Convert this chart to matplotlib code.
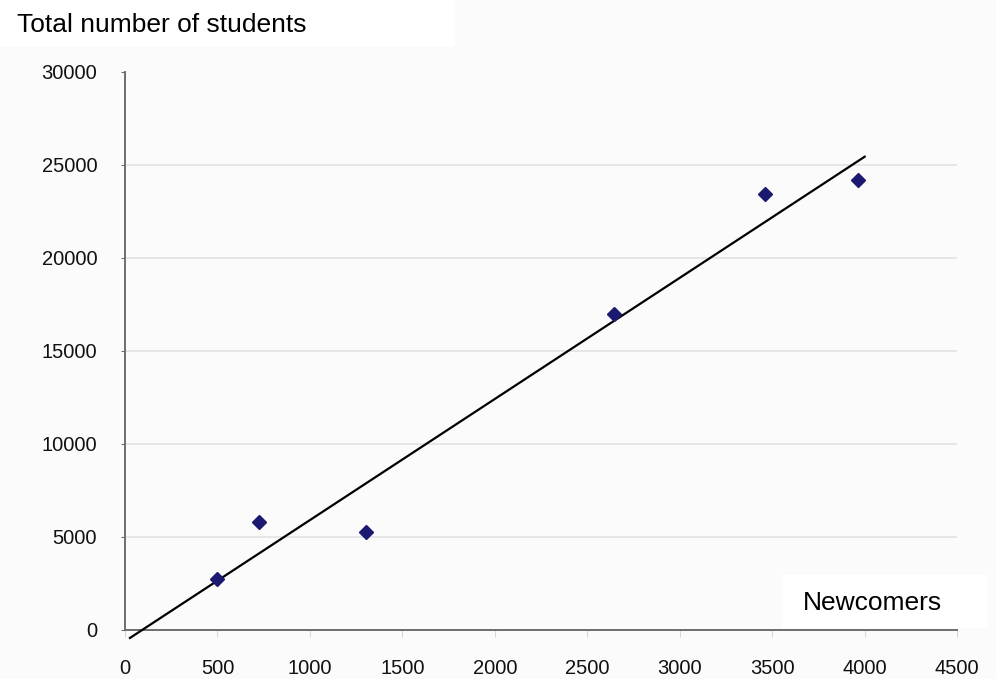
import numpy as np
import matplotlib.pyplot as plt
from matplotlib.patches import Rectangle

# newcomers vs total number of students
newcomers = [497, 727, 1303, 2643, 3461, 3966]
students = [2730, 5780, 5270, 17000, 23420, 24210]

xticks = [0, 500, 1000, 1500, 2000, 2500, 3000, 3500, 4000, 4500]
yticks = [0, 5000, 10000, 15000, 20000, 25000, 30000]

plt.rcParams['font.family'] = ['Liberation Sans', 'DejaVu Sans']

fig = plt.figure(figsize=(9.96, 6.79), dpi=100, facecolor='#fbfbfb')
ax = fig.add_axes([0.1255, 0.0722, 0.8355, 0.8218])
ax.set_facecolor('#fbfbfb')

# white label backgrounds
fig.patches.append(Rectangle((0, 0.931), 0.457, 0.069, transform=fig.transFigure,
                             facecolor='white', edgecolor='none', zorder=0))
fig.patches.append(Rectangle((0.785, 0.075), 0.206, 0.078, transform=fig.transFigure,
                             facecolor='white', edgecolor='none', zorder=0))

# least squares trend line
k, b = np.polyfit(newcomers, students, 1)
line_x = np.array([27, 4000])
ax.plot(line_x, k * line_x + b, color='black', lw=1.6, clip_on=False, zorder=3)

ax.plot(newcomers, students, 'D', color='#1b1a70', markersize=7, zorder=4)

ax.set_xlim(0, 4500)
ax.set_ylim(0, 30000)
ax.set_xticks(xticks)
ax.set_yticks(yticks)

ax.grid(axis='y', color='#e2e2e2', lw=1.2)
ax.get_ygridlines()[0].set_visible(False)
ax.get_ygridlines()[-1].set_visible(False)
ax.set_axisbelow(True)

for s in ['top', 'right']:
    ax.spines[s].set_visible(False)
for s in ['left', 'bottom']:
    ax.spines[s].set_color('#6e6e6e')
    ax.spines[s].set_linewidth(1.4)

ax.tick_params(axis='y', length=3, color='#6e6e6e', pad=17, labelsize=14.5, labelcolor='#111111')
ax.tick_params(axis='x', length=5, color='#d8d8d8', pad=16, labelsize=14.5, labelcolor='#111111')

fig.text(0.017, 0.963, 'Total number of students', fontsize=19, va='center', ha='left')
fig.text(0.876, 0.112, 'Newcomers', fontsize=19, va='center', ha='center', zorder=5)

fig.savefig('out.png', dpi=100, facecolor=fig.get_facecolor())
